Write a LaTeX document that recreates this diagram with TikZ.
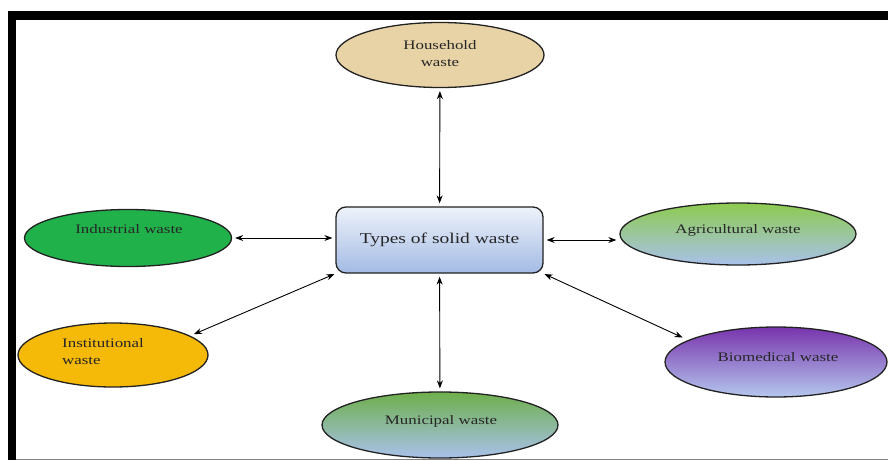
\documentclass[tikz,border=0pt]{standalone}
\usepackage{fontspec}
\setmainfont{Liberation Serif}[FakeStretch=1.3]
\usetikzlibrary{shapes.geometric,arrows.meta}

\definecolor{parchment}{HTML}{E8D3A6}
\definecolor{indgreen}{HTML}{21B14B}
\definecolor{instgold}{HTML}{F5B908}
\definecolor{leafgreen}{HTML}{8DCB4F}
\definecolor{mungreen}{HTML}{6EAF4C}
\definecolor{skyblue}{HTML}{A9C1EB}
\definecolor{violet}{HTML}{7834AD}
\definecolor{paleblue}{HTML}{B4C7EE}
\definecolor{boxtop}{HTML}{EEF2FA}
\definecolor{boxbottom}{HTML}{A3BBE4}
\definecolor{ink}{HTML}{222222}

\begin{document}
\begin{tikzpicture}[x=1pt,y=-1pt,
  blob/.style={ellipse, draw=ink, line width=1.3pt, inner sep=0pt},
  lbl/.style={font=\fontsize{13}{17}\selectfont, text=black!85, align=center, inner sep=0pt},
  link/.style={{Stealth[length=8pt,width=6pt]}-{Stealth[length=8pt,width=6pt]},
               line width=0.9pt, shorten <=3pt, shorten >=3pt}]
\useasboundingbox (0,0) rectangle (888,460);

% frame
\fill[black] (8,11) rectangle (888,20);
\fill[black] (8,11) rectangle (16,460);
\draw[gray, line width=0.8pt] (16,459) -- (888,459);

% central box
\node[draw=ink, line width=1.3pt, rounded corners=10pt,
      minimum width=207pt, minimum height=66pt,
      top color=boxtop, bottom color=boxbottom,
      font=\fontsize{15}{18}\selectfont, text=black!85] (types) at (439.5,240) {Types of solid waste};

% categories
\node[blob, fill=parchment, minimum width=208pt, minimum height=65pt] (household) at (440,55) {};
\node[lbl] (household-t) at (440,54) {Household\\waste};

\node[blob, fill=indgreen, minimum width=207pt, minimum height=57pt] (industrial) at (128,238) {};
\node[lbl] (industrial-t) at (129,229) {Industrial waste};

\node[blob, top color=leafgreen, bottom color=skyblue, minimum width=236pt, minimum height=62pt] (agri) at (738,234) {};
\node[lbl] (agri-t) at (738,230) {Agricultural waste};

\node[blob, fill=instgold, minimum width=190pt, minimum height=64pt] (inst) at (113,355) {};
\node[lbl, align=left, anchor=west] (inst-t) at (62,352) {Institutional\\waste};

\node[blob, top color=violet, bottom color=paleblue, minimum width=222pt, minimum height=70pt] (bio) at (776,362) {};
\node[lbl] (bio-t) at (778,357) {Biomedical waste};

\node[blob, top color=mungreen, bottom color=skyblue, minimum width=236pt, minimum height=66pt] (muni) at (440,425) {};
\node[lbl] (muni-t) at (441,421) {Municipal waste};

% connectors
\draw[link] (household) -- (types);
\draw[link] (types) -- (muni);
\draw[link] (industrial.east) -- (types.west |- industrial.east);
\draw[link] (types.east) -- (agri.west |- types.east);
\draw[link, shorten <=4pt, shorten >=1pt] (inst.14) -- (types.south west);
\draw[link, shorten <=1pt, shorten >=6pt] (types.south east) -- (bio.166);
\end{tikzpicture}
\end{document}
